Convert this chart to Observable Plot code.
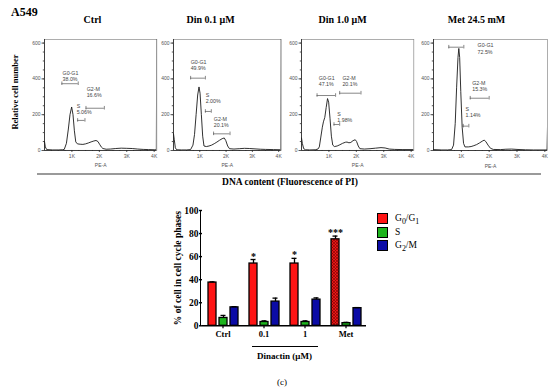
<!DOCTYPE html>
<html><head><meta charset="utf-8">
<script src="https://cdn.jsdelivr.net/npm/d3@7"></script>
<script src="https://cdn.jsdelivr.net/npm/@observablehq/plot@0.6"></script>
<style>
body{margin:0;background:#fff;}
#root{position:relative;width:550px;height:392px;overflow:hidden;font-family:"Liberation Serif",serif;color:#000;}
.abs{position:absolute;white-space:nowrap;}
.b{font-weight:bold;}
.c{transform:translateX(-50%);}
.plot{position:absolute;}
</style></head><body><div id="root"></div>
<script>
// ---------- data ----------
const figTitle = "A549";
const panelTitles = ["Ctrl", "Din 0.1 μM", "Din 1.0 μM", "Met 24.5 mM"];
const histYTicks = [0, 200, 400, 600];
const histXTicks = [1000, 2000, 3000, 4000];
const histXLabels = ["1K", "2K", "3K", "4K"];

// histogram traces [channel, count]
const histCtrl = [[0,50],[30,20],[80,5],[300,3],[500,3],[650,4],[720,6],[800,40],[870,120],[930,200],[990,243],[1040,200],[1090,110],[1140,48],[1200,37],[1300,35],[1400,34],[1500,37],[1600,42],[1700,48],[1800,53],[1880,56],[1950,50],[2020,32],[2080,18],[2130,11],[2250,7],[2400,8],[2600,11],[2800,13],[3000,12],[3200,11],[3400,8],[3600,6],[3800,5],[4000,4],[4080,4],[4096,700]];
const histDin01 = [[0,93],[30,60],[70,15],[120,4],[300,3],[500,3],[650,5],[740,30],[800,90],[860,200],[920,310],[970,355],[1010,320],[1060,200],[1110,80],[1160,25],[1250,22],[1350,25],[1450,30],[1550,38],[1650,47],[1750,57],[1850,66],[1930,70],[1990,55],[2060,25],[2130,10],[2300,8],[2500,10],[2700,12],[2900,11],[3100,9],[3300,7],[3500,6],[3800,5],[4080,4],[4096,700]];
const histDin10 = [[0,70],[30,40],[80,10],[150,4],[300,3],[500,4],[600,8],[650,20],[700,70],[760,130],[800,160],[850,185],[900,240],[950,290],[990,270],[1040,180],[1090,80],[1140,30],[1200,22],[1300,25],[1400,32],[1500,40],[1600,46],[1660,47],[1730,43],[1800,45],[1880,55],[1960,60],[2010,50],[2070,25],[2130,10],[2300,8],[2500,10],[2700,13],[2900,16],[3050,14],[3200,8],[3400,6],[3700,5],[4096,5]];
const histMet = [[0,5],[300,3],[500,3],[650,5],[720,30],[780,150],[830,350],[880,520],[910,570],[940,520],[980,330],[1030,130],[1080,40],[1130,20],[1250,20],[1350,22],[1450,27],[1550,33],[1650,42],[1750,52],[1820,58],[1880,50],[1960,30],[2050,12],[2150,6],[2400,5],[2600,7],[2800,8],[3000,6],[3300,4],[3600,3],[4080,3],[4096,130]];

// gates: name, percent, gate x-range and level, label anchor (data units)
const gatesCtrl = [
  {name:"G0-G1", pct:"38.0%", x1:634, x2:1230, y:373, lx:659, ly:448},
  {name:"G2-M", pct:"16.6%", x1:1513, x2:2183, y:236, lx:1538, ly:359},
  {name:"S", pct:"5.06%", x1:1209, x2:1476, y:168, lx:1172, ly:261}];
const gatesDin01 = [
  {name:"G0-G1", pct:"49.9%", x1:652, x2:1213, y:404, lx:652, ly:507},
  {name:"S", pct:"2.00%", x1:1213, x2:1438, y:218, lx:1225, ly:321},
  {name:"G2-M", pct:"20.1%", x1:1524, x2:2150, y:93, lx:1532, ly:187}];
const gatesDin10 = [
  {name:"G0-G1", pct:"47.1%", x1:567, x2:1244, y:307, lx:630, ly:418},
  {name:"G2-M", pct:"20.1%", x1:1393, x2:2170, y:320, lx:1493, ly:418},
  {name:"S", pct:"1.98%", x1:1185, x2:1393, y:145, lx:1307, ly:215}];
const gatesMet = [
  {name:"G0-G1", pct:"72.5%", x1:550, x2:1090, y:577, lx:1583, ly:600},
  {name:"G2-M", pct:"15.3%", x1:1320, x2:2000, y:292, lx:1392, ly:392},
  {name:"S", pct:"1.14%", x1:1070, x2:1270, y:136, lx:1151, ly:243}];

// bar chart
const categories = ["Ctrl", "0.1", "1", "Met"];
const phases = ["G0/G1", "S", "G2/M"];
const g0g1 = [37.5, 54, 54, 75];
const sPhase = [6.8, 3.3, 3.3, 2.3];
const g2m = [16, 21, 22.7, 15.3];
const g0g1Err = [0.6, 3.5, 4.5, 2.8];
const sErr = [2.2, 1, 1, 0.7];
const g2mErr = [0.6, 3, 1.5, 0.5];
const stars = ["", "*", "*", "***"];
const barYTicks = [0, 20, 40, 60, 80, 100];
const phaseColors = ["#ff1414", "#1db41d", "#0b0ba6"];

// ---------- layout ----------
const root = document.getElementById("root");
function html(txt, css, cls) {
  const d = document.createElement("div");
  d.className = "abs " + (cls || "");
  d.innerHTML = txt;
  Object.assign(d.style, css);
  root.appendChild(d);
  return d;
}
function place(el, left, top) {
  el.classList.add("plot");
  el.style.left = left + "px";
  el.style.top = top + "px";
  root.appendChild(el);
}

html(figTitle, {left: "11px", top: "5px", fontSize: "12px"}, "b");
const titleX = [92.5, 210.5, 342.5, 476.5];
panelTitles.forEach((t, i) => html(t, {left: titleX[i] + "px", top: "14px", fontSize: "10px"}, "b c"));
html("Relative cell number", {left: "15px", top: "92px", fontSize: "8.5px", transform: "translate(-50%,-50%) rotate(-90deg)"}, "b");

const frames = [{l: 43.7, r: 156}, {l: 173.3, r: 281}, {l: 300.7, r: 413}, {l: 433, r: 547}];
const traces = [histCtrl, histDin01, histDin10, histMet];
const gateSets = [gatesCtrl, gatesDin01, gatesDin10, gatesMet];

function hist(data, gates, fr) {
  const mL = 20, mR = 4, mT = 9, mB = 20, H = 140;
  const W = fr.r - fr.l + mL + mR;
  const svg = Plot.plot({
    width: W, height: H, marginLeft: mL, marginRight: mR, marginTop: mT, marginBottom: mB,
    style: {fontFamily: "'Liberation Sans', sans-serif", fontSize: "5px", color: "#555", background: "none", overflow: "visible"},
    x: {domain: [0, 4096]},
    y: {domain: [0, 620]},
    marks: [
      Plot.frame({stroke: "#8a8a8a", strokeWidth: 0.7}),
      Plot.axisY({ticks: histYTicks, tickSize: 2.5, tickPadding: 1.5, label: null}),
      Plot.axisY({ticks: d3.range(0, 601, 50), tickSize: 1.2, tickFormat: () => "", label: null}),
      Plot.axisX({ticks: histXTicks, tickFormat: (d, i) => histXLabels[i], tickSize: 2, tickPadding: 1.5, label: "PE-A", labelAnchor: "center", labelArrow: "none", labelOffset: 17}),
      Plot.axisX({ticks: d3.range(250, 4096, 250), tickSize: 1, tickFormat: () => "", label: null}),
      Plot.ruleX([0], {stroke: "#222", strokeWidth: 0.8}),
      Plot.ruleY([0], {stroke: "#222", strokeWidth: 0.8}),
      Plot.ruleY(gates, {x1: "x1", x2: "x2", y: "y", stroke: "#555", strokeWidth: 0.7}),
      Plot.ruleX(gates, {x: "x1", y1: d => d.y - 10, y2: d => d.y + 10, stroke: "#555", strokeWidth: 0.7}),
      Plot.ruleX(gates, {x: "x2", y1: d => d.y - 10, y2: d => d.y + 10, stroke: "#555", strokeWidth: 0.7}),
      Plot.text(gates, {x: "lx", y: "ly", text: d => d.name + "\n" + d.pct, textAnchor: "start", lineAnchor: "top", lineHeight: 1.15, fontSize: 5.3, fill: "#444"}),
      Plot.lineY(data, {x: d => d[0], y: d => d[1], stroke: "#1a1a1a", strokeWidth: 0.9, clip: true})
    ]
  });
  place(svg, fr.l - mL, 30);
}
frames.forEach((fr, i) => hist(traces[i], gateSets[i], fr));

html("", {left: "37px", top: "172.5px", width: "504px", height: "0", borderTop: "2px solid #9a9a9a"});
html("DNA content (Fluorescence of PI)", {left: "290px", top: "177px", fontSize: "9.5px"}, "b c");

// ---------- bar chart ----------
const rows = [];
categories.forEach((c, i) => {
  const vals = [g0g1[i], sPhase[i], g2m[i]];
  const errs = [g0g1Err[i], sErr[i], g2mErr[i]];
  phases.forEach((p, j) => rows.push({
    cat: c, phase: p, value: vals[j], err: errs[j],
    fill: (c === "Met" && j === 0) ? "url(#hatchRed)" : phaseColors[j],
    star: j === 0 ? stars[i] : ""
  }));
});

const bL = 150, bT = 195, bW = 225, bH = 175;
const bar = Plot.plot({
  width: bW, height: bH, marginLeft: 51, marginRight: (bL + bW) - 367, marginTop: 15, marginBottom: bH - 130.3,
  style: {fontFamily: "'Liberation Serif', serif", fontSize: "8.5px", fontWeight: "bold", color: "#000", background: "none", overflow: "visible"},
  fx: {domain: categories, paddingInner: 0, paddingOuter: 0},
  x: {domain: phases, paddingInner: 0.3, paddingOuter: 0.4, axis: null},
  y: {domain: [0, 100]},
  color: {type: "identity"},
  marks: [
    Plot.axisY({ticks: barYTicks, tickSize: 3, tickPadding: 1, strokeWidth: 1.4, label: "% of cell in cell cycle phases", labelAnchor: "center", labelArrow: "none", labelOffset: 28, fontSize: 9.5}),
    Plot.axisFx({anchor: "bottom", label: null, tickSize: 3, tickPadding: 2, strokeWidth: 1.2}),
    Plot.barY(rows, {fx: "cat", x: "phase", y: "value", fill: "fill", stroke: "#000", strokeWidth: 1.3}),
    Plot.ruleX(rows, {fx: "cat", x: "phase", y1: "value", y2: d => d.value + d.err, stroke: "#000", strokeWidth: 1.3}),
    Plot.tickY(rows, {fx: "cat", x: "phase", y: d => d.value + d.err, stroke: "#000", strokeWidth: 1.3, insetLeft: 1.5, insetRight: 1.5}),
    Plot.text(rows.filter(d => d.star), {fx: "cat", x: "phase", y: d => d.value + d.err, text: "star", lineAnchor: "bottom", fontSize: 10}),
    Plot.ruleY([0], {stroke: "#000", strokeWidth: 1.6}),
    Plot.ruleX([0], {frameAnchor: "left", stroke: "#000", strokeWidth: 1.6, facet: "exclude", filter: () => false})
  ]
});
const defs = d3.select(bar).insert("defs", ":first-child");
const pat = defs.append("pattern").attr("id", "hatchRed").attr("patternUnits", "userSpaceOnUse").attr("width", 3).attr("height", 3);
pat.append("rect").attr("width", 3).attr("height", 3).attr("fill", "#e81616");
pat.append("path").attr("d", "M0,0L3,3M3,0L0,3").attr("stroke", "#7a0000").attr("stroke-width", 0.6);
place(bar, bL, bT);

// y-axis line of the bar chart
html("", {left: "200.2px", top: "209.5px", width: "0", height: "116.5px", borderLeft: "1.6px solid #000"});

// Dinactin bracket
html("", {left: "252px", top: "346px", width: "66px", height: "0", borderTop: "1.2px solid #000"});
html("Dinactin (μM)", {left: "284.5px", top: "351px", fontSize: "9px"}, "b c");
html("(c)", {left: "282px", top: "377px", fontSize: "9px"}, "c");

// legend
const legendLabels = ["G<sub>0</sub>/G<sub>1</sub>", "S", "G<sub>2</sub>/M"];
legendLabels.forEach((t, i) => {
  const y = 213 + i * 13.5;
  html("", {left: "377px", top: y + "px", width: "9px", height: "9px", background: phaseColors[i], border: "1.2px solid #000"});
  html(t, {left: "395px", top: (y - 1) + "px", fontSize: "9.5px", lineHeight: "12px"});
});
</script>
</body></html>
